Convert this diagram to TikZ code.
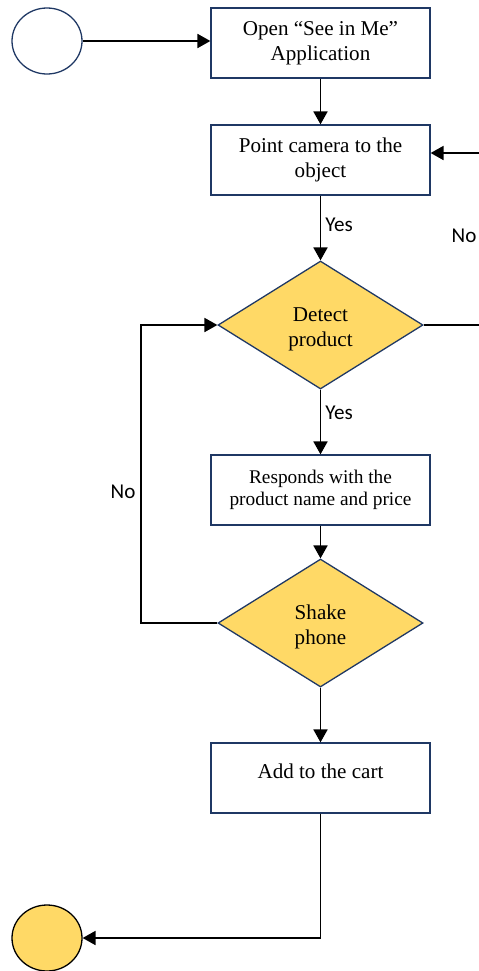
\documentclass[tikz,border=0pt]{standalone}
\usepackage{fontspec}
\setmainfont{Liberation Serif}
\newfontfamily\lblfont{Carlito}
\usetikzlibrary{arrows.meta,shapes.geometric}
\definecolor{N}{RGB}{31,56,100}
\definecolor{Y}{RGB}{255,217,102}

\begin{document}
\begin{tikzpicture}[x=0.03cm,y=-0.03cm,
    box/.style={draw=N,line width=1.1pt,fill=white,minimum width=6.57cm,
      minimum height=2.1cm,inner sep=0pt,align=center,
      font=\fontsize{18}{21.5}\selectfont},
    decision/.style={diamond,draw=N,line width=1.1pt,fill=Y,minimum width=6.15cm,
      minimum height=3.84cm,inner sep=0pt},
    txt/.style={align=center,inner sep=0pt,font=\fontsize{18}{21.5}\selectfont},
    terminal/.style={ellipse,line width=1.1pt,minimum width=2.1cm,minimum height=1.98cm},
    flow/.style={-{Triangle[length=11pt,width=12pt]},line width=1.3pt},
    lbl/.style={font=\lblfont\fontsize{18}{20}\selectfont}]
   	\useasboundingbox (0,0) rectangle (479,971);

	%Inicio y fin
   	\node[terminal,draw=N,fill=white] (start) at (47,41) {};
   	\node[terminal,draw=black,fill=Y] (stop) at (47,938) {};

	%Cajas
   	\node[box] (open) at (320.5,43) {Open “See in Me”\\Application};
   	\node[box] (point) at (320.5,160) {Point camera to the\\object};
   	\node[box,font=\fontsize{16.5}{18.8}\selectfont] (resp) at (320.5,490) {Responds with the\\product name and price};
   	\node[box] (cart) at (320.5,778) {};
   	\node[txt] (cartt) at ([yshift=6pt]cart.center) {Add to the cart};

	%Decisiones
   	\node[decision] (detect) at (320.5,325) {};
   	\node[txt] (detectt) at ([yshift=-3.5pt]detect.center) {Detect\\product};
   	\node[decision] (shake) at (320.5,623) {};
   	\node[txt] (shaket) at ([yshift=-3.5pt]shake.center) {Shake\\phone};

	%Puntos de las vueltas
   	\coordinate (r1) at (490,325);
   	\coordinate (r2) at (490,153);
   	\coordinate (l1) at (141,623);
   	\coordinate (l2) at (141,325);
   	\coordinate (b1) at (cart.south |- stop.east);

	%Flechas
   	\draw[flow] (start.east) -- (start.east -| open.west);
   	\draw[flow] (open) -- (point);
   	\draw[flow] (point) -- (detect);
   	\draw[flow] (detect) -- (resp);
   	\draw[flow] (resp) -- (shake);
   	\draw[flow] (shake) -- (cart);
   	\draw[flow] (cart.south) -- (b1) -- (stop.east);
   	\draw[flow] (detect.east) -- (r1) -- (r2) -- (point.east |- r2);
   	\draw[flow] (shake.west) -- (l1) -- (l2) -- (detect.west);

	%Etiquetas
   	\node[lbl] (yes1) at (339,225) {Yes};
   	\node[lbl] (yes2) at (339,413) {Yes};
   	\node[lbl] (no1) at (464,236) {No};
   	\node[lbl] (no2) at (123,492) {No};
\end{tikzpicture}
\end{document}
